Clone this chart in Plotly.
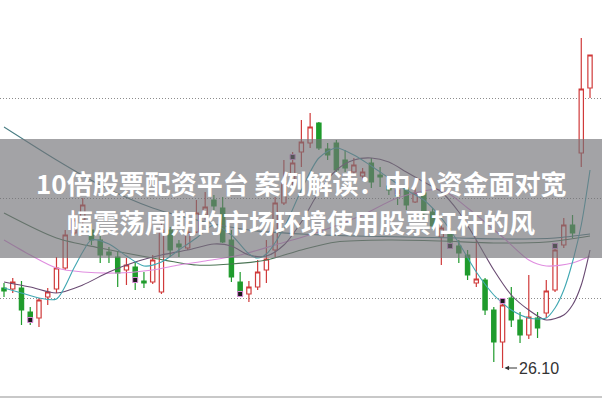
import plotly.graph_objects as go

# ---- candle data (index, open, high, low, close) ----
idx = list(range(68))
opens = [27.70, 27.68, 27.70, 27.22, 27.10, 27.52, 27.68, 28.10, 28.80, 29.06,
         28.86, 28.66, 28.42, 28.32, 28.06, 28.12, 27.84, 27.82, 27.62, 28.86,
         28.58, 28.50, 28.82, 29.16, 29.46, 29.30, 28.66, 27.82, 27.58, 27.72,
         28.06, 28.46, 29.40, 29.86, 30.42, 30.60, 31.00, 30.48, 30.60, 30.26,
         30.02, 29.94, 30.20, 29.96, 29.74, 29.66, 29.70, 29.42, 29.60, 29.22,
         28.72, 28.82, 28.54, 28.36, 27.80, 27.86, 27.26, 26.62, 27.50, 27.06,
         26.76, 27.10, 27.20, 27.66, 28.56, 28.96, 30.40, 31.70]
highs = [27.80, 27.90, 27.84, 27.32, 27.50, 27.70, 28.32, 28.86, 29.26, 29.50,
         28.98, 28.74, 28.52, 28.42, 28.30, 28.22, 28.02, 28.36, 29.00, 28.92,
         28.66, 29.02, 29.46, 29.62, 29.56, 29.52, 28.86, 28.02, 27.84, 28.26,
         28.66, 29.52, 30.26, 30.42, 31.06, 31.20, 31.02, 30.60, 30.66, 30.46,
         30.30, 30.10, 30.30, 30.12, 29.82, 29.74, 29.76, 29.72, 29.66, 29.30,
         28.96, 28.90, 28.66, 28.46, 28.66, 27.90, 27.32, 27.42, 27.72, 27.22,
         27.96, 27.22, 27.86, 28.52, 29.10, 29.16, 32.70, 32.36]
lows = [27.52, 27.60, 26.96, 26.96, 26.92, 27.36, 27.60, 28.06, 28.76, 28.96,
        28.56, 28.20, 28.20, 27.72, 27.76, 27.66, 27.70, 27.78, 27.58, 28.32,
        28.32, 28.46, 28.80, 29.06, 29.26, 28.60, 27.82, 27.52, 27.42, 27.66,
        27.80, 28.32, 29.36, 29.76, 30.12, 30.50, 30.46, 30.26, 30.02, 30.02,
        29.94, 29.86, 29.70, 29.72, 29.56, 29.36, 29.26, 29.40, 29.10, 28.86,
        28.16, 28.50, 28.20, 27.86, 27.72, 27.16, 26.22, 26.10, 26.92, 26.60,
        26.68, 26.70, 27.10, 27.62, 28.50, 28.70, 30.12, 31.50]
closes = [27.64, 27.82, 27.26, 27.12, 27.46, 27.62, 28.10, 28.76, 29.06, 29.36,
          28.66, 28.36, 28.36, 28.00, 28.16, 27.92, 27.80, 28.26, 28.86, 28.46,
          28.52, 28.82, 29.20, 29.32, 29.34, 28.62, 27.92, 27.62, 27.72, 28.02,
          28.28, 29.40, 29.80, 30.20, 30.62, 30.92, 30.50, 30.36, 30.06, 30.10,
          30.16, 30.02, 29.82, 29.92, 29.66, 29.54, 29.36, 29.60, 29.20, 28.94,
          28.90, 28.62, 28.40, 27.96, 27.88, 27.26, 26.62, 27.36, 27.06, 26.76,
          27.12, 26.90, 27.64, 28.46, 28.96, 28.80, 31.68, 32.36]

# ---- moving-average lines (index, value) ----
ma_teal_x = [0, 2, 4, 6, 8, 9, 10, 12, 14, 16, 18, 20, 22, 24, 26, 28, 29, 30, 32, 34,
             36, 38, 40, 42, 44, 46, 48, 50, 52, 54, 56, 57, 58, 60, 62, 63, 64, 65, 66, 67]
ma_teal_y = [27.70, 27.60, 27.50, 27.48, 28.10, 28.42, 28.66, 28.58, 28.34, 28.14, 28.22,
             28.46, 28.70, 28.96, 28.76, 28.38, 28.30, 28.38, 28.90, 29.66, 30.30, 30.50,
             30.36, 30.14, 29.90, 29.66, 29.46, 29.10, 28.60, 28.02, 27.56, 27.40, 27.26,
             27.10, 27.10, 27.30, 27.66, 28.22, 28.96, 30.06]
ma_purple_x = [0, 3, 6, 9, 12, 15, 18, 21, 24, 26, 28, 30, 32, 34, 36, 38, 40, 42, 44, 46,
               48, 50, 52, 54, 56, 58, 60, 62, 64, 65, 66, 67]
ma_purple_y = [27.82, 27.72, 27.60, 27.76, 28.02, 28.22, 28.36, 28.46, 28.58, 28.54, 28.36,
               28.34, 28.56, 29.02, 29.62, 30.06, 30.26, 30.30, 30.22, 30.02, 29.82, 29.62,
               29.22, 28.66, 28.06, 27.56, 27.26, 27.06, 27.16, 27.36, 27.76, 28.46]
ma_pink_x = [0, 3, 6, 9, 13, 17, 20, 23, 27, 31, 36, 41, 45, 50, 53, 57, 60, 62, 65, 67]
ma_pink_y = [28.66, 28.36, 28.10, 28.02, 28.00, 28.06, 28.16, 28.24, 28.36, 28.56, 28.82,
             29.16, 29.50, 29.66, 29.30, 28.72, 28.26, 28.14, 28.20, 28.34]
ma_slate_x = [0, 6, 11, 17, 23, 28, 34, 40, 46, 52, 58, 63, 67]
ma_slate_y = [30.92, 30.26, 29.76, 29.30, 29.02, 28.86, 28.78, 28.74, 28.72, 28.70, 28.68,
              28.70, 28.78]
ma_green_x = [0, 6, 11, 17, 22, 26, 30, 34, 38, 44, 50, 56, 62, 67]
ma_green_y = [29.20, 28.70, 28.50, 28.30, 28.16, 28.18, 28.26, 28.46, 28.62, 28.66, 28.64,
              28.60, 28.62, 28.74]

# ---- signal markers ----
mark_x = [3, 15, 27, 33, 45, 51, 57, 63]
mark_y = [27.06, 27.86, 27.58, 30.32, 29.62, 28.54, 27.44, 28.54]

low_label = "26.10"
low_idx = 57
low_val = 26.10

title_line1 = "10倍股票配资平台 案例解读：中小资金面对宽"
title_line2 = "幅震荡周期的市场环境使用股票杠杆的风"

RED = "#d03a3a"
GREEN = "#1f9b2c"

fig = go.Figure()

line_specs = [
    (ma_slate_x, ma_slate_y, "#4a7d84"),
    (ma_green_x, ma_green_y, "#4d7556"),
    (ma_pink_x, ma_pink_y, "#e08ee0"),
    (ma_purple_x, ma_purple_y, "#694a72"),
    (ma_teal_x, ma_teal_y, "#3fa7b2"),
]
for xs, ys, col in line_specs:
    fig.add_trace(go.Scatter(x=xs, y=ys, mode="lines",
                             line=dict(color=col, width=1.1, shape="spline", smoothing=0.8),
                             hoverinfo="skip", showlegend=False))

fig.add_trace(go.Candlestick(
    x=idx, open=opens, high=highs, low=lows, close=closes,
    increasing=dict(line=dict(color=RED, width=1.2), fillcolor="white"),
    decreasing=dict(line=dict(color=GREEN, width=1.2), fillcolor=GREEN),
    whiskerwidth=0, showlegend=False, hoverinfo="skip",
))

fig.add_trace(go.Scatter(x=mark_x, y=mark_y, mode="markers",
                         marker=dict(symbol="square", size=5, color="#1a1a1a",
                                     line=dict(color="#d88ad8", width=1)),
                         hoverinfo="skip", showlegend=False))

fig.update_layout(
    width=602, height=399,
    margin=dict(l=0, r=0, t=0, b=0),
    paper_bgcolor="white", plot_bgcolor="white",
    xaxis=dict(range=[-0.457, 68.37], visible=False, rangeslider=dict(visible=False),
               fixedrange=True),
    yaxis=dict(range=[25.48, 33.46], showticklabels=False, ticks="",
               tickvals=[27.5, 29.5, 31.5], showgrid=True, gridcolor="#8c8c8c",
               griddash="1px,2px", gridwidth=1, zeroline=False, showline=False),
    showlegend=False,
    boxgap=0.3,
)

# bottom border line
fig.add_shape(type="line", xref="paper", yref="paper", x0=0, x1=1, y0=0.005, y1=0.005,
              line=dict(color="#c8c8c8", width=2))

# banner overlay
fig.add_shape(type="rect", xref="paper", yref="paper", x0=0, x1=1,
              y0=1 - 258 / 399, y1=1 - 139 / 399,
              fillcolor="rgba(115,115,120,0.66)", line=dict(width=0), layer="above")

for txt, ypx in [(title_line1, 182), (title_line2, 221)]:
    fig.add_annotation(text=txt, xref="paper", yref="paper", x=0.5, y=1 - ypx / 399,
                       xanchor="center", yanchor="middle", showarrow=False,
                       font=dict(family="Noto Sans CJK SC", size=26, color="white",
                                 weight="bold"))

fig.add_annotation(x=low_idx, y=low_val, text=low_label, showarrow=True,
                   ax=36, ay=0, arrowhead=2, arrowsize=0.9, arrowwidth=1,
                   arrowcolor="#333333", standoff=2,
                   font=dict(family="Arial, Liberation Sans", size=16, color="#333333"))

fig.write_html("out.html")
